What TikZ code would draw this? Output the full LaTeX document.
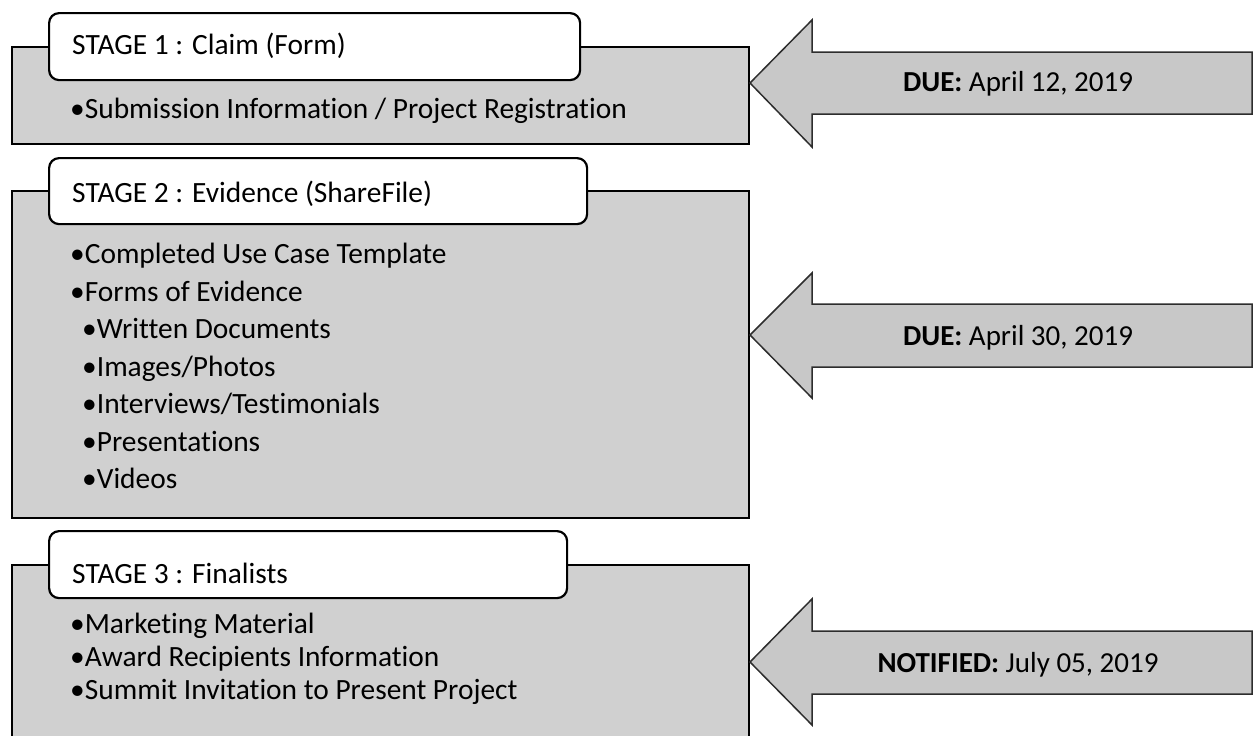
\documentclass[tikz,border=0pt]{standalone}
\usepackage{fontspec}
\setmainfont{Carlito}[Ligatures=NoCommon]
\definecolor{panelgray}{RGB}{208,208,208}
\definecolor{arrowgray}{RGB}{200,200,200}
\definecolor{arrowline}{RGB}{45,45,45}
\tikzset{
  panel/.style={draw=black, line width=2pt, fill=panelgray, rectangle, anchor=north west, inner sep=0pt},
  titlebox/.style={draw=black, line width=2.2pt, fill=white, rectangle, rounded corners=10pt, anchor=north west, inner sep=0pt},
  txt/.style={anchor=base west, inner sep=0pt, font=\fontsize{29.4pt}{32pt}\selectfont},
  bigarrow/.style={draw=arrowline, line width=1.5pt, fill=arrowgray, line join=miter},
  due/.style={anchor=base, inner sep=0pt, font=\fontsize{29pt}{32pt}\selectfont},
}
\begin{document}
\begin{tikzpicture}[x=1pt,y=-1pt]
\clip (0,0) rectangle (1253,736);
% Stage 1
\node[panel, minimum width=737pt, minimum height=97pt] (p1) at (11,46) {};
\node[titlebox, minimum width=531pt, minimum height=67pt] (t1) at (48,12) {};
\node[txt] (t1l) at (72,54) {STAGE 1 : Claim (Form)};
\node[txt] (a1) at (70,118) {•Submission Information / Project Registration};
% Stage 2
\node[panel, minimum width=737pt, minimum height=327pt] (p2) at (11,190) {};
\node[titlebox, minimum width=538pt, minimum height=66pt] (t2) at (48,157) {};
\node[txt] (t2l) at (72,202) {STAGE 2 : Evidence (ShareFile)};
\node[txt] (b1) at (70,263) {•Completed Use Case Template};
\node[txt] (b2) at (70,301) {•Forms of Evidence};
\node[txt] (b3) at (82,338) {•Written Documents};
\node[txt] (b4) at (82,376) {•Images/Photos};
\node[txt] (b5) at (82,413) {•Interviews/Testimonials};
\node[txt] (b6) at (82,451) {•Presentations};
\node[txt] (b7) at (82,488) {•Videos};
% Stage 3
\node[panel, minimum width=737pt, minimum height=200pt] (p3) at (11,564) {};
\node[titlebox, minimum width=518pt, minimum height=67pt] (t3) at (48,530) {};
\node[txt] (t3l) at (72,583) {STAGE 3 : Finalists};
\node[txt] (c1) at (70,633) {•Marketing Material};
\node[txt] (c2) at (70,666) {•Award Recipients Information};
\node[txt] (c3) at (70,699) {•Summit Invitation to Present Project};
% Arrows
\draw[bigarrow] (750,83) -- (812,20) -- (812,52) -- (1252,52) -- (1252,114) -- (812,114) -- (812,147) -- cycle;
\node[due] (d1) at (1018,91) {\textbf{DUE:} April 12, 2019};
\draw[bigarrow] (750,335) -- (812,273) -- (812,304) -- (1252,304) -- (1252,367) -- (812,367) -- (812,398) -- cycle;
\node[due] (d2) at (1018,345) {\textbf{DUE:} April 30, 2019};
\draw[bigarrow] (750,662) -- (812,599) -- (812,631) -- (1252,631) -- (1252,694) -- (812,694) -- (812,725) -- cycle;
\node[due] (d3) at (1018,672) {\textbf{NOTIFIED:} July 05, 2019};
\end{tikzpicture}
\end{document}
